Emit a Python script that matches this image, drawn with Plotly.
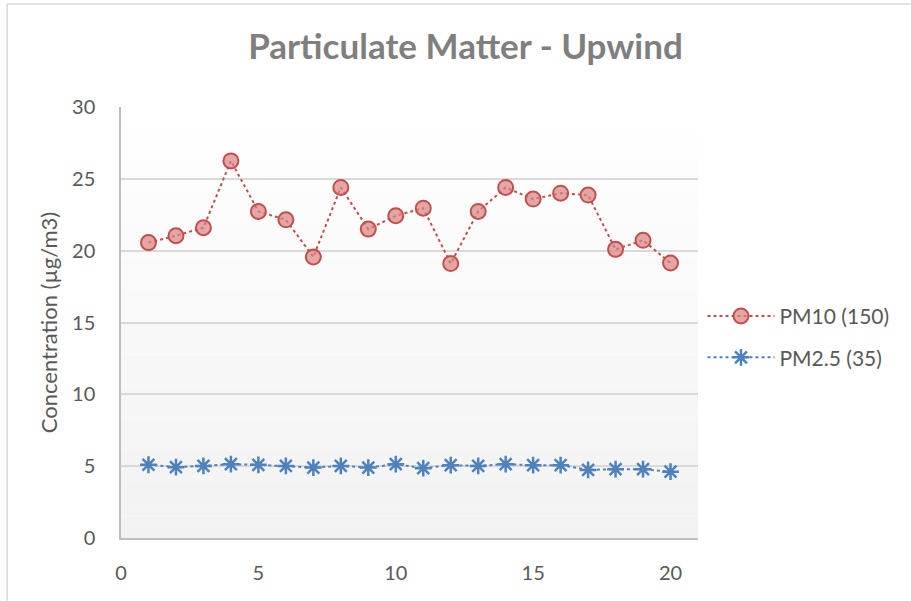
import plotly.graph_objects as go

x_vals = list(range(1, 21))
pm10 = [20.56, 21.04, 21.6, 26.25, 22.73, 22.15, 19.56, 24.4, 21.5, 22.43,
        22.96, 19.1, 22.73, 24.4, 23.59, 24.0, 23.87, 20.09, 20.72, 19.14]
pm25 = [5.1, 4.93, 5.02, 5.14, 5.09, 5.02, 4.9, 5.02, 4.9, 5.14,
        4.86, 5.07, 5.02, 5.14, 5.07, 5.07, 4.74, 4.79, 4.79, 4.62]
series_names = ["PM10 (150)", "PM2.5 (35)"]
title_text = "Particulate Matter - Upwind"
y_title = "Concentration (µg/m3)"

FONT = "Lato, 'Open Sans', sans-serif"
TXT = "#595959"

W, H = 911, 601
L, T = 121, 107
PW, PH = 577.5, 431.3

fig = go.Figure()
fig.add_trace(go.Scatter(
    x=x_vals, y=pm10, name=series_names[0], mode="lines+markers",
    legendgroup="a",
    line=dict(color="#c0504d", width=2, dash="dot"),
    marker=dict(symbol="circle", size=15, color="rgba(217,130,128,0.7)",
                line=dict(color="#c0504d", width=2)),
))
fig.add_trace(go.Scatter(
    x=x_vals, y=pm25, name=series_names[1], mode="lines+markers",
    legendgroup="b",
    line=dict(color="#4f81bd", width=2, dash="dot"),
    marker=dict(symbol="asterisk-open", size=14,
                line=dict(color="#4f81bd", width=2.5)),
))

# vertical gradient background (white -> light grey)
shapes = []
n = 40
for i in range(n):
    t = (i + 0.5) / n
    v = int(round(255 - (255 - 242) * (1 - t)))
    shapes.append(dict(type="rect", xref="x domain", yref="y domain",
                       x0=0, x1=1, y0=i / n, y1=(i + 1) / n,
                       fillcolor=f"rgb({v},{v},{v})", line=dict(width=0),
                       layer="below"))

def px_x(a):
    return (a - L) / PW

def px_y(a):
    return (T + PH - a) / PH

# outer chart border (left and top edges)
shapes.append(dict(type="line", xref="paper", yref="paper",
                   x0=px_x(7), x1=px_x(7), y0=px_y(4), y1=px_y(601),
                   line=dict(color="#d9d9d9", width=1.5), layer="below"))
shapes.append(dict(type="line", xref="paper", yref="paper",
                   x0=px_x(7), x1=px_x(911), y0=px_y(4), y1=px_y(4),
                   line=dict(color="#d9d9d9", width=1.5), layer="below"))

fig.update_layout(
    width=W, height=H,
    margin=dict(l=L, r=W - L - PW, t=T, b=H - T - PH),
    paper_bgcolor="white", plot_bgcolor="rgba(0,0,0,0)",
    shapes=shapes,
    title=dict(text=f"<b>{title_text}</b>", x=465.5 / W, xanchor="center",
               y=1 - 47 / H, yanchor="middle",
               font=dict(family=FONT, size=35, color="#7f7f7f")),
    font=dict(family=FONT, size=20, color=TXT),
    showlegend=True,
    legend=dict(x=px_x(703), xanchor="left", y=px_y(296), yanchor="top",
                bgcolor="rgba(0,0,0,0)", traceorder="grouped",
                itemwidth=67,
                tracegroupgap=11, font=dict(size=21, color=TXT)),
)
fig.update_xaxes(range=[0, 21], dtick=5, tick0=0, showgrid=False,
                 showline=True, linecolor="#bfbfbf", linewidth=1.5,
                 zeroline=False, ticks="", ticklabelstandoff=16,
                 tickfont=dict(size=20, color=TXT))
fig.update_yaxes(range=[0, 30], dtick=5, tick0=0, showgrid=True,
                 gridcolor="#d9d9d9", gridwidth=1.5,
                 showline=True, linecolor="#bfbfbf", linewidth=1.5,
                 zeroline=False, ticks="", ticklabelstandoff=20,
                 title=dict(text=y_title, font=dict(size=22, color=TXT), standoff=8),
                 tickfont=dict(size=20, color=TXT))

fig.write_html("out.html", config={"displayModeBar": False},
               post_script="document.body.style.margin='0';")
